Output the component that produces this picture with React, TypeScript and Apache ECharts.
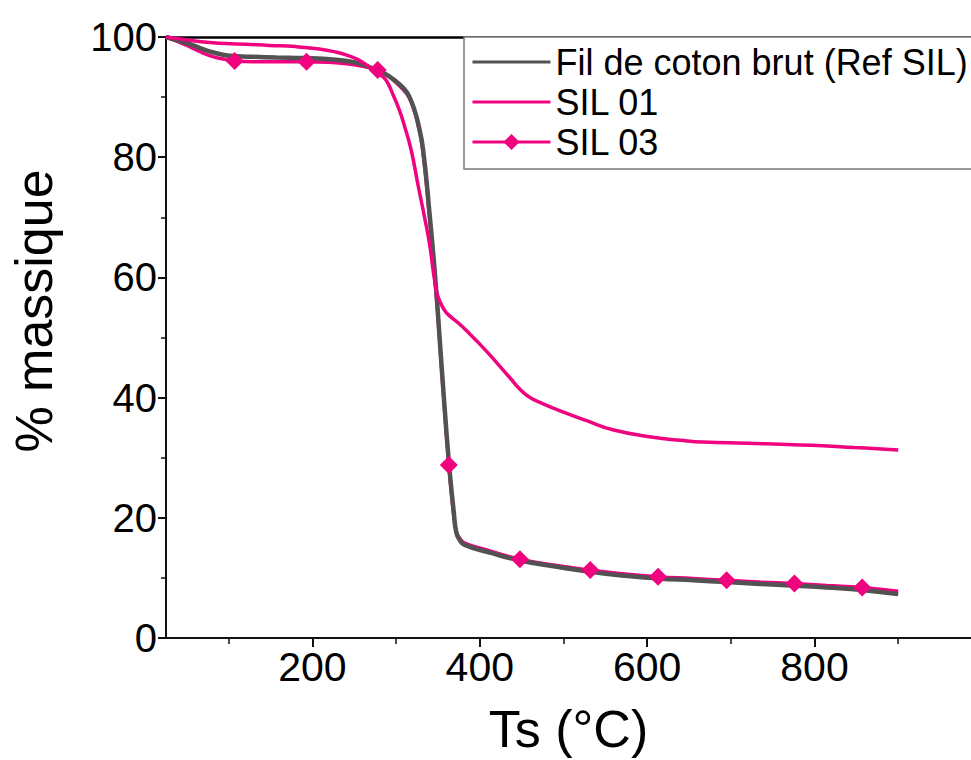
import React, { useEffect, useRef } from "react";
import * as echarts from "echarts";

// ---- data ----
const refName = "Fil de coton brut (Ref SIL)";
const sil01Name = "SIL 01";
const sil03Name = "SIL 03";

const refT = [25, 40, 56, 77, 95, 109, 130, 157, 190, 228, 250, 268, 285, 300, 310, 316, 322, 326, 332, 340, 347, 355, 363, 369, 372, 376, 382, 412, 448, 490, 532, 570, 613, 655, 695, 735, 776, 815, 857, 900];
const refV = [100, 99.4, 98.7, 97.6, 97.0, 96.8, 96.7, 96.6, 96.5, 96.2, 95.8, 95.0, 94.0, 92.6, 91.3, 90.0, 87.8, 85.8, 81.5, 70.5, 59.5, 44.0, 29.3, 20.8, 17.5, 16.3, 15.5, 14.2, 12.9, 11.9, 11.0, 10.4, 9.9, 9.6, 9.3, 9.0, 8.7, 8.4, 8.0, 7.3];

const sil01T = [25, 40, 56, 77, 97, 120, 148, 180, 208, 228, 241, 255, 268, 280, 288, 296, 304, 310, 318, 326, 334, 340, 346, 350, 358, 364, 376, 388, 400, 412, 424, 436, 448, 460, 475, 496, 527, 560, 607, 640, 667, 720, 767, 810, 847, 875, 900];
const sil01V = [100, 99.7, 99.4, 99.1, 98.9, 98.8, 98.6, 98.4, 98.0, 97.5, 97.0, 96.2, 95.0, 93.8, 92.8, 90.5, 87.8, 85.2, 81.2, 75.5, 70.0, 65.5, 59.5, 56.8, 54.5, 53.6, 52.2, 50.6, 48.9, 47.1, 45.2, 43.3, 41.4, 40.0, 39.0, 37.8, 36.2, 34.6, 33.4, 32.9, 32.6, 32.4, 32.2, 32.0, 31.7, 31.5, 31.3];

const sil03T = [25, 40, 56, 77, 95, 107, 130, 157, 193, 228, 250, 268, 278, 290, 300, 310, 316, 322, 326, 332, 340, 347, 355, 363, 369, 372, 376, 382, 412, 448, 490, 532, 570, 613, 655, 695, 735, 776, 815, 857, 900];
const sil03V = [100, 99.2, 98.2, 96.9, 96.3, 96.0, 95.9, 95.9, 95.9, 95.7, 95.4, 94.9, 94.5, 93.6, 92.4, 91.0, 89.8, 87.6, 85.5, 81.0, 69.8, 58.8, 43.5, 28.8, 20.2, 17.7, 16.6, 15.8, 14.5, 13.1, 12.1, 11.3, 10.7, 10.2, 9.9, 9.6, 9.3, 9.05, 8.75, 8.4, 7.8];
const sil03MarkerT = [107, 193, 278, 363, 448, 532, 613, 695, 776, 857];

const xMajorTicks = [200, 400, 600, 800];
const xMinorTicks = [100, 300, 500, 700, 900];
const xMin = 25;
const xMax = 987;

const GRAY = "#525252";
const PINK = "#EF037F";
const FONT = "'Liberation Sans', Arial, Helvetica, sans-serif";

export default function App() {
  const ref = useRef<HTMLDivElement>(null);

  useEffect(() => {
    if (!ref.current) return;
    const chart = echarts.init(ref.current, null, { renderer: "svg" });

    const refData = refT.map((t, i) => [t, refV[i]]);
    const sil01Data = sil01T.map((t, i) => [t, sil01V[i]]);
    const sil03Data = sil03T.map((t, i) => [t, sil03V[i]]);
    const markerData = sil03Data.filter((p) => sil03MarkerT.includes(p[0] as number));

    const baseX = {
      type: "value",
      min: xMin,
      max: xMax,
      splitLine: { show: false },
      gridIndex: 0,
    };

    chart.setOption({
      animation: false,
      backgroundColor: "#ffffff",
      textStyle: { fontFamily: FONT },
      grid: { left: 166, top: 37, right: 0, bottom: 122, containLabel: false },
      legend: {
        data: [
          { name: refName, itemStyle: { opacity: 0 } },
          { name: sil01Name, itemStyle: { opacity: 0 } },
          { name: sil03Name },
        ],
        orient: "vertical",
        left: 464,
        top: 37,
        itemWidth: 78,
        itemHeight: 20,
        itemGap: 0,
        padding: [5, 14, 7, 7],
        borderColor: "#7a7a7a",
        borderWidth: 1.5,
        backgroundColor: "#ffffff",
        selectedMode: false,
        lineStyle: { width: 3 },
        textStyle: { fontSize: 36, lineHeight: 40, color: "#000", fontFamily: FONT },
      },
      xAxis: [
        {
          ...baseX,
          position: "bottom",
          name: "Ts (°C)",
          nameLocation: "middle",
          nameGap: 65,
          nameTextStyle: { fontSize: 52, lineHeight: 52, color: "#000", fontFamily: FONT },
          axisLine: { show: true, onZero: false, lineStyle: { color: "#111", width: 2 } },
          axisTick: { show: true, inside: false, length: 9, customValues: xMajorTicks, lineStyle: { color: "#111", width: 2 } },
          axisLabel: { show: true, customValues: xMajorTicks, fontSize: 41, margin: 8, color: "#000", fontFamily: FONT },
        },
        {
          ...baseX,
          position: "bottom",
          axisLine: { show: false },
          axisTick: { show: true, inside: false, length: 6, customValues: xMinorTicks, lineStyle: { color: "#111", width: 1.5 } },
          axisLabel: { show: false },
        },
        {
          ...baseX,
          position: "top",
          axisLine: { show: true, onZero: false, lineStyle: { color: "#000", width: 2.5 } },
          axisTick: { show: false },
          axisLabel: { show: false },
        },
      ],
      yAxis: {
        type: "value",
        min: 0,
        max: 100,
        interval: 20,
        splitLine: { show: false },
        axisLine: { show: true, onZero: false, lineStyle: { color: "#111", width: 2 } },
        axisTick: { show: true, inside: false, length: 8, lineStyle: { color: "#111", width: 2 } },
        minorTick: { show: true, splitNumber: 2, length: 5, lineStyle: { color: "#111", width: 1.5 } },
        minorSplitLine: { show: false },
        axisLabel: { fontSize: 40, margin: 9, color: "#000", fontFamily: FONT },
      },
      graphic: [
        {
          type: "text",
          x: 34,
          y: 311,
          rotation: Math.PI / 2,
          style: {
            text: "% massique",
            fontSize: 52,
            fontFamily: FONT,
            fill: "#000",
            align: "center",
            verticalAlign: "middle",
          },
        },
      ],
      series: [
        {
          name: sil03Name,
          type: "line",
          xAxisIndex: 0,
          data: sil03Data,
          smooth: 0.5,
          symbol: "diamond",
          showSymbol: false,
          symbolSize: 18,
          itemStyle: { color: PINK },
          lineStyle: { color: PINK, width: 3.5 },
          z: 2,
        },
        {
          name: refName,
          type: "line",
          xAxisIndex: 0,
          data: refData,
          smooth: 0.5,
          symbol: "none",
          itemStyle: { color: GRAY },
          lineStyle: { color: GRAY, width: 4.5 },
          z: 3,
        },
        {
          name: sil01Name,
          type: "line",
          xAxisIndex: 0,
          data: sil01Data,
          smooth: 0.5,
          symbol: "none",
          itemStyle: { color: PINK },
          lineStyle: { color: PINK, width: 3.5 },
          z: 4,
        },
        {
          name: "SIL 03 markers",
          type: "scatter",
          xAxisIndex: 0,
          data: markerData,
          symbol: "diamond",
          symbolSize: 18,
          itemStyle: { color: PINK, opacity: 1 },
          z: 5,
        },
      ],
    });

    return () => chart.dispose();
  }, []);

  return (
    <div
      ref={ref}
      style={{ position: "absolute", left: 0, top: 0, width: 971, height: 760 }}
    />
  );
}
